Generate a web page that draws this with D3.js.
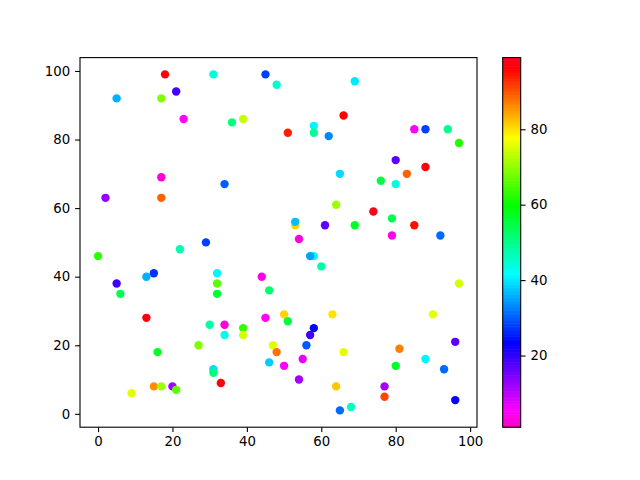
<!DOCTYPE html>
<html><head><meta charset="utf-8">
<script src="https://cdn.jsdelivr.net/npm/d3@7"></script>
<style>body{margin:0;background:#fff}svg{display:block}text{font-family:"DejaVu Sans",sans-serif;font-size:13.3px;fill:#000}</style>
</head><body>
<svg id="c" width="640" height="480"></svg>
<script>
const xs = [18,31,45,48,21,5,17,23,36,39,17,34,2,17,29,22,69,66,51,58,58,62,85,88,94,97,80,88,83,76,80,65,64,74,79,69,85,61,53,53,54,79,92,0,5,6,13,15,32,32,32,44,46,13,30,34,34,39,39,45,50,16,27,47,48,46,50,31,31,33,15,17,20,21,9,58,57,60,97,51,63,90,58,57,56,66,96,81,55,80,88,93,54,64,77,77,96,65,68];
const ys = [99,99,99,96,94,92,92,86,85,86,69,67,63,63,50,48,97,87,82,84,82,81,83,83,83,79,74,72,70,68,67,70,61,59,57,55,55,55,55,56,51,52,52,46,38,35,40,41,41,38,35,40,36,28,26,26,23,25,23,28,29,18,20,20,18,15,14,13,12,9,8,8,8,7,6,46,46,43,38,27,29,29,25,23,20,18,21,19,16,14,16,13,10,8,8,5,4,1,2];
const cs = [97,44,28,45,19,36,69,5,51,74,3,30,13,89,28,47,40,96,94,41,49,33,5,28,50,62,17,97,89,55,44,39,71,98,54,57,95,17,81,37,3,4,31,63,19,54,36,27,41,66,56,4,52,97,48,3,43,63,75,5,81,57,69,76,88,38,5,39,51,97,86,71,12,66,76,41,35,48,75,55,80,76,24,19,30,76,17,87,7,57,41,31,12,82,12,91,23,31,46];
const xTicks = [0,20,40,60,80,100];
const yTicks = [0,20,40,60,80,100];
const cTicks = [20,40,60,80];
const cMin = 1, cMax = 99;

// gist_rainbow stops (t, color); reversed via t = 1 - n
const rainbowT = [0,0.03,0.215,0.4,0.586,0.77,0.954,1];
const rainbowC = ["rgb(255,0,41)","rgb(255,0,0)","rgb(255,255,0)","rgb(0,255,0)","rgb(0,255,255)","rgb(0,0,255)","rgb(255,0,255)","rgb(255,0,191)"];
const gist = d3.scaleLinear().domain(rainbowT).range(rainbowC).interpolate(d3.interpolateRgb);
const norm = d3.scaleLinear().domain([cMin,cMax]).range([0,1]).clamp(true);
const cmap = v => gist(1 - norm(v));

const svg = d3.select("#c");
const L=80, T=57.6, R=477, B=427.2;
const xMin=d3.min(xs), xMax=d3.max(xs), yMin=d3.min(ys), yMax=d3.max(ys);
const xm=(xMax-xMin)*0.05, ym=(yMax-yMin)*0.05;
const x = d3.scaleLinear().domain([xMin-xm,xMax+xm]).range([L,R]);
const y = d3.scaleLinear().domain([yMin-ym,yMax+ym]).range([B,T]);

svg.append("g").selectAll("circle").data(xs.map((d,i)=>i)).join("circle")
  .attr("cx",i=>x(xs[i])).attr("cy",i=>y(ys[i])).attr("r",4.2)
  .attr("fill",i=>cmap(cs[i]));

const xa = svg.append("g").attr("transform",`translate(0,${B})`)
  .call(d3.axisBottom(x).tickValues(xTicks).tickSize(4.9).tickPadding(4.9).tickFormat(d3.format("d")));
const ya = svg.append("g").attr("transform",`translate(${L},0)`)
  .call(d3.axisLeft(y).tickValues(yTicks).tickSize(4.9).tickPadding(4.9).tickFormat(d3.format("d")));
[xa,ya].forEach(a=>{a.select(".domain").remove();a.selectAll("line").attr("stroke","#000").attr("stroke-width",1.1);a.selectAll("text").attr("font-size",null).attr("font-family",null);});
svg.append("rect").attr("x",L).attr("y",T).attr("width",R-L).attr("height",B-T)
  .attr("fill","none").attr("stroke","#000").attr("stroke-width",1.1);

// colorbar
const CL=502.7, CR=520.7;
const cy = d3.scaleLinear().domain([cMin,cMax]).range([B,T]);
const steps = d3.range(256).map(i=>cMin + (cMax-cMin)*i/256);
const dv = (cMax-cMin)/256;
svg.append("g").selectAll("rect").data(steps).join("rect")
  .attr("x",CL).attr("width",CR-CL)
  .attr("y",d=>cy(d+dv)).attr("height",d=>cy(d)-cy(d+dv)+0.6)
  .attr("fill",d=>cmap(d+dv/2));
svg.append("rect").attr("x",CL).attr("y",T).attr("width",CR-CL).attr("height",B-T)
  .attr("fill","none").attr("stroke","#000").attr("stroke-width",1.1);
const ca = svg.append("g").attr("transform",`translate(${CR},0)`)
  .call(d3.axisRight(cy).tickValues(cTicks).tickSize(4.9).tickPadding(4.9).tickFormat(d3.format("d")));
ca.select(".domain").remove();
ca.selectAll("line").attr("stroke","#000").attr("stroke-width",1.1);
ca.selectAll("text").attr("font-size",null).attr("font-family",null);
</script>
</body></html>
